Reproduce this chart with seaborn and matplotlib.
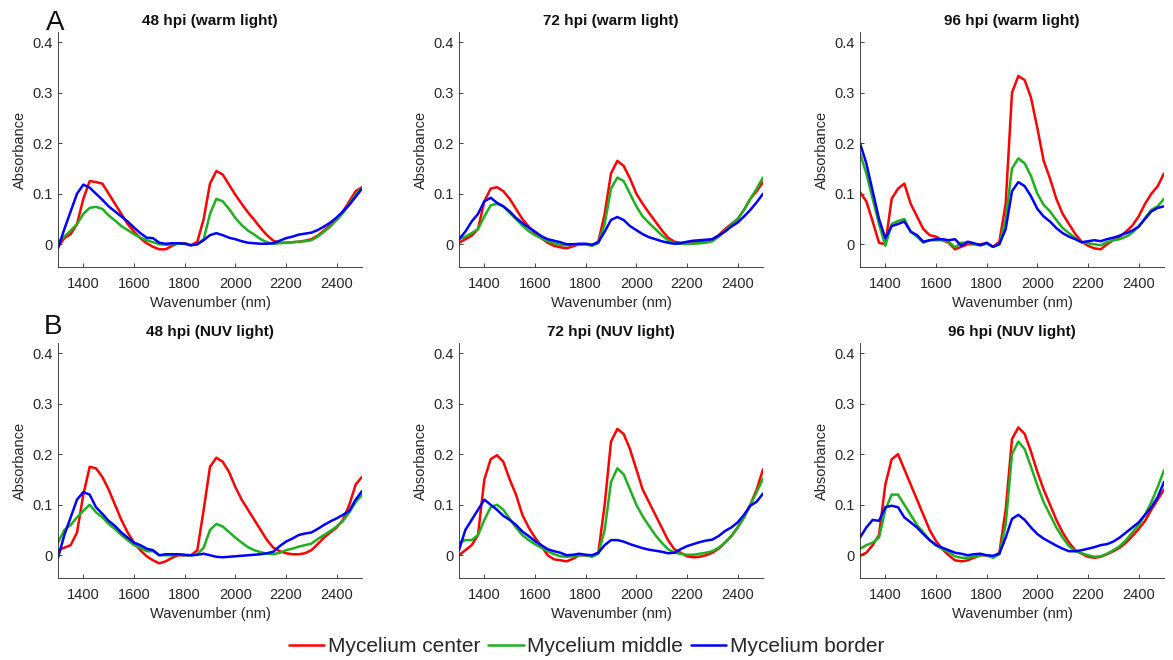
import numpy as np
import pandas as pd
import matplotlib
matplotlib.use("Agg")
import matplotlib.pyplot as plt
import seaborn as sns
from matplotlib.lines import Line2D

# Wavelength grid (nm)
wavelength = list(range(1300, 2501, 25))

# ---- 48 hpi, warm light ----
w48_center = [-0.005, 0.012, 0.02, 0.04, 0.09, 0.125, 0.123, 0.12, 0.1, 0.08,
              0.06, 0.04, 0.025, 0.012, 0.002, -0.005, -0.01, -0.01, -0.003, 0.002,
              0.002, -0.002, 0.005, 0.05, 0.12, 0.145, 0.138, 0.118, 0.098, 0.08,
              0.063, 0.048, 0.032, 0.018, 0.007, 0.003, 0.003, 0.004, 0.005, 0.007,
              0.01, 0.017, 0.027, 0.038, 0.05, 0.065, 0.085, 0.105, 0.113]
w48_middle = [0.005, 0.015, 0.027, 0.04, 0.06, 0.072, 0.074, 0.07, 0.057, 0.047,
              0.036, 0.028, 0.02, 0.013, 0.008, 0.004, 0.0, -0.001, 0.0, 0.001,
              0.001, -0.002, 0.0, 0.01, 0.06, 0.09, 0.085, 0.07, 0.052, 0.038,
              0.027, 0.019, 0.01, 0.004, 0.001, 0.002, 0.003, 0.004, 0.005, 0.006,
              0.008, 0.015, 0.025, 0.035, 0.048, 0.062, 0.08, 0.098, 0.112]
w48_border = [-0.008, 0.03, 0.065, 0.1, 0.118, 0.112, 0.1, 0.088, 0.075, 0.065,
              0.055, 0.045, 0.033, 0.022, 0.013, 0.012, 0.003, 0.001, 0.002, 0.002,
              0.001, -0.002, 0.0, 0.008, 0.018, 0.022, 0.018, 0.013, 0.01, 0.006,
              0.003, 0.002, 0.001, 0.001, 0.002, 0.007, 0.012, 0.015, 0.019, 0.021,
              0.023, 0.028, 0.035, 0.043, 0.053, 0.065, 0.078, 0.094, 0.11]

# ---- 72 hpi, warm light ----
w72_center = [0.003, 0.01, 0.017, 0.03, 0.085, 0.11, 0.113, 0.105, 0.09, 0.07,
              0.05, 0.035, 0.022, 0.012, 0.003, -0.003, -0.006, -0.008, -0.004, 0.0,
              0.0, -0.002, 0.005, 0.06, 0.14, 0.165, 0.155, 0.13, 0.1, 0.08,
              0.062, 0.045, 0.028, 0.013, 0.005, 0.003, 0.003, 0.004, 0.005, 0.007,
              0.01, 0.018, 0.03, 0.04, 0.05, 0.068, 0.09, 0.105, 0.123]
w72_middle = [0.01, 0.015, 0.022, 0.03, 0.055, 0.077, 0.08, 0.075, 0.062, 0.05,
              0.037, 0.026, 0.018, 0.012, 0.006, 0.002, -0.001, -0.002, -0.001, 0.0,
              0.0, -0.003, 0.002, 0.04, 0.11, 0.132, 0.125, 0.1, 0.075, 0.055,
              0.042, 0.03, 0.018, 0.008, 0.002, 0.001, 0.001, 0.001, 0.002, 0.003,
              0.006, 0.015, 0.027, 0.038, 0.05, 0.068, 0.09, 0.11, 0.132]
w72_border = [0.01, 0.025, 0.045, 0.06, 0.085, 0.092, 0.082, 0.075, 0.065, 0.052,
              0.042, 0.033, 0.025, 0.016, 0.01, 0.007, 0.004, 0.0, 0.0, 0.001,
              0.001, -0.001, 0.004, 0.025, 0.048, 0.054, 0.048, 0.036, 0.028, 0.02,
              0.014, 0.01, 0.006, 0.003, 0.001, 0.002, 0.005, 0.007, 0.008, 0.009,
              0.01, 0.017, 0.025, 0.035, 0.043, 0.055, 0.068, 0.083, 0.1]

# ---- 96 hpi, warm light ----
w96_center = [0.103, 0.085, 0.045, 0.003, 0.0, 0.09, 0.11, 0.12, 0.08, 0.055,
              0.03, 0.018, 0.015, 0.008, 0.003, -0.01, -0.005, 0.0, 0.0, 0.0,
              0.002, -0.005, 0.005, 0.08, 0.3, 0.333, 0.325, 0.29, 0.23, 0.165,
              0.13, 0.09, 0.06, 0.04, 0.02, 0.005, -0.003, -0.008, -0.01, 0.0,
              0.008, 0.015, 0.025, 0.037, 0.055, 0.08, 0.1, 0.115, 0.14]
w96_middle = [0.18, 0.14, 0.09, 0.04, -0.003, 0.04, 0.046, 0.05, 0.025, 0.015,
              0.003, 0.008, 0.008, 0.008, 0.005, -0.006, 0.003, 0.003, 0.001, -0.002,
              0.001, -0.005, 0.0, 0.05, 0.15, 0.17, 0.16, 0.135, 0.1, 0.078,
              0.065, 0.048, 0.032, 0.022, 0.012, 0.004, 0.002, 0.0, -0.002, 0.004,
              0.008, 0.01, 0.015, 0.023, 0.035, 0.052, 0.068, 0.075, 0.09]
w96_border = [0.2, 0.16, 0.105, 0.05, 0.012, 0.036, 0.04, 0.045, 0.025, 0.018,
              0.005, 0.008, 0.01, 0.01, 0.008, 0.01, -0.003, 0.005, 0.002, -0.002,
              0.003, -0.005, 0.0, 0.03, 0.105, 0.123, 0.115, 0.095, 0.07, 0.055,
              0.045, 0.032, 0.022, 0.015, 0.01, 0.004, 0.006, 0.008, 0.006, 0.01,
              0.013, 0.017, 0.022, 0.027, 0.035, 0.05, 0.065, 0.072, 0.075]

# ---- 48 hpi, NUV light ----
n48_center = [0.01, 0.015, 0.02, 0.045, 0.12, 0.175, 0.172, 0.155, 0.13, 0.1,
              0.07, 0.045, 0.025, 0.01, -0.002, -0.01, -0.016, -0.012, -0.005, 0.0,
              0.0, 0.0, 0.01, 0.09, 0.175, 0.193, 0.185, 0.165, 0.135, 0.11,
              0.09, 0.07, 0.05, 0.03, 0.015, 0.008, 0.004, 0.002, 0.002, 0.004,
              0.01, 0.022, 0.035, 0.045, 0.055, 0.07, 0.1, 0.14, 0.155]
n48_middle = [0.025, 0.05, 0.06, 0.075, 0.088, 0.1, 0.085, 0.075, 0.062, 0.052,
              0.04, 0.03, 0.02, 0.015, 0.008, 0.008, 0.0, 0.0, 0.0, 0.001,
              0.0, 0.0, 0.002, 0.015, 0.05, 0.062, 0.057, 0.046, 0.035, 0.025,
              0.016, 0.01, 0.006, 0.003, 0.002, 0.005, 0.01, 0.013, 0.017, 0.02,
              0.023, 0.032, 0.04, 0.048, 0.057, 0.068, 0.085, 0.105, 0.12]
n48_border = [-0.005, 0.04, 0.075, 0.11, 0.125, 0.12, 0.095, 0.082, 0.068, 0.058,
              0.045, 0.035, 0.025, 0.02, 0.013, 0.01, 0.0, 0.002, 0.002, 0.002,
              0.001, 0.0, 0.001, 0.003, 0.0, -0.003, -0.004, -0.003, -0.002, -0.001,
              0.0, 0.001, 0.002, 0.004, 0.007, 0.018, 0.027, 0.033, 0.04, 0.043,
              0.045, 0.052, 0.06, 0.067, 0.073, 0.08, 0.088, 0.11, 0.127]

# ---- 72 hpi, NUV light ----
n72_center = [0.0, 0.01, 0.02, 0.04, 0.15, 0.19, 0.198, 0.185, 0.15, 0.12,
              0.08, 0.055, 0.035, 0.018, 0.0, -0.008, -0.01, -0.012, -0.007, 0.0,
              0.0, -0.002, 0.005, 0.1, 0.225, 0.25, 0.24, 0.21, 0.17, 0.13,
              0.105, 0.08, 0.055, 0.03, 0.012, 0.005, -0.002, -0.004, -0.003, 0.0,
              0.005, 0.013, 0.025, 0.038, 0.055, 0.075, 0.1, 0.13, 0.17]
n72_middle = [0.025, 0.03, 0.03, 0.04, 0.07, 0.095, 0.1, 0.09, 0.072, 0.055,
              0.04, 0.03, 0.022, 0.015, 0.008, 0.002, -0.002, -0.003, -0.002, 0.0,
              0.0, -0.003, 0.003, 0.05, 0.145, 0.172, 0.16, 0.13, 0.1, 0.077,
              0.058, 0.04, 0.025, 0.012, 0.005, 0.003, 0.001, 0.001, 0.003, 0.005,
              0.008, 0.015, 0.025, 0.038, 0.055, 0.075, 0.1, 0.125, 0.152]
n72_border = [0.01, 0.05, 0.07, 0.09, 0.11, 0.1, 0.09, 0.078, 0.07, 0.06,
              0.047, 0.038, 0.028, 0.02, 0.012, 0.008, 0.005, 0.0, 0.001, 0.003,
              0.001, 0.0, 0.005, 0.02, 0.03, 0.03, 0.027, 0.022, 0.018, 0.014,
              0.011, 0.009, 0.007, 0.004, 0.005, 0.012, 0.018, 0.022, 0.026, 0.029,
              0.031, 0.038, 0.048, 0.055, 0.065, 0.08, 0.098, 0.106, 0.122]

# ---- 96 hpi, NUV light ----
n96_center = [-0.001, 0.005, 0.02, 0.04, 0.14, 0.19, 0.2, 0.17, 0.14, 0.11,
              0.08, 0.05, 0.028, 0.012, 0.0, -0.01, -0.012, -0.01, -0.005, 0.0,
              0.0, -0.003, 0.005, 0.09, 0.23, 0.253, 0.24, 0.205, 0.165, 0.13,
              0.1, 0.07, 0.045, 0.025, 0.01, 0.003, -0.003, -0.005, -0.003, 0.002,
              0.008, 0.015, 0.025, 0.038, 0.052, 0.068, 0.09, 0.11, 0.13]
n96_middle = [0.013, 0.02, 0.025, 0.035, 0.09, 0.12, 0.12, 0.1, 0.08, 0.06,
              0.045, 0.03, 0.02, 0.012, 0.006, -0.002, -0.005, -0.005, -0.003, 0.0,
              0.0, -0.005, 0.002, 0.06, 0.2, 0.225, 0.21, 0.175, 0.138, 0.105,
              0.08, 0.055, 0.035, 0.018, 0.008, 0.004, 0.0, -0.003, -0.002, 0.003,
              0.01, 0.018, 0.03, 0.045, 0.06, 0.08, 0.105, 0.135, 0.168]
n96_border = [0.035, 0.055, 0.07, 0.068, 0.095, 0.098, 0.095, 0.075, 0.065, 0.055,
              0.042, 0.03, 0.02, 0.015, 0.01, 0.005, 0.003, 0.0, 0.002, 0.003,
              0.0, -0.001, 0.003, 0.035, 0.072, 0.08, 0.07, 0.055, 0.042, 0.033,
              0.026, 0.019, 0.013, 0.008, 0.008, 0.01, 0.013, 0.016, 0.02, 0.022,
              0.027, 0.035, 0.045, 0.055, 0.065, 0.08, 0.095, 0.115, 0.145]

series_names = ["Mycelium center", "Mycelium middle", "Mycelium border"]
panel_titles = ["48 hpi (warm light)", "72 hpi (warm light)", "96 hpi (warm light)",
                "48 hpi (NUV light)", "72 hpi (NUV light)", "96 hpi (NUV light)"]
panels = [
    (w48_center, w48_middle, w48_border),
    (w72_center, w72_middle, w72_border),
    (w96_center, w96_middle, w96_border),
    (n48_center, n48_middle, n48_border),
    (n72_center, n72_middle, n72_border),
    (n96_center, n96_middle, n96_border),
]
row_letters = ["A", "B"]
x_ticks = [1400, 1600, 1800, 2000, 2200, 2400]
y_ticks = [0, 0.1, 0.2, 0.3, 0.4]
y_ticklabels = ["0", "0.1", "0.2", "0.3", "0.4"]

colors = {"Mycelium center": "#ff0000",
          "Mycelium middle": "#1eb01e",
          "Mycelium border": "#0000ff"}

sns.set_style("ticks")
plt.rcParams["font.family"] = ["Liberation Sans", "DejaVu Sans"]
axis_color = "#262626"

W, H = 1173, 660
fig = plt.figure(figsize=(W / 100, H / 100), dpi=100)

lefts = [58 / W, 459 / W, 860 / W]
width = 304 / W
bottoms = [1 - 267 / H, 1 - 578 / H]
height = 235 / H
letter_pos = [(55 / W, 1 - 30 / H), (53 / W, 1 - 334 / H)]

for idx, (title, curves) in enumerate(zip(panel_titles, panels)):
    r, c = divmod(idx, 3)
    ax = fig.add_axes([lefts[c], bottoms[r], width, height])
    frames = []
    for name, vals in zip(series_names, curves):
        assert len(vals) == len(wavelength)
        frames.append(pd.DataFrame({"Wavelength": wavelength,
                                    "Absorbance": vals,
                                    "Sample": name}))
    df = pd.concat(frames, ignore_index=True)
    sns.lineplot(data=df, x="Wavelength", y="Absorbance", hue="Sample",
                 hue_order=series_names, palette=colors, linewidth=1.8,
                 legend=False, ax=ax, sort=True)
    ax.set_xlim(1300, 2500)
    ax.set_ylim(-0.045, 0.42)
    ax.set_xticks(x_ticks)
    ax.set_yticks(y_ticks)
    ax.set_yticklabels(y_ticklabels)
    ax.tick_params(direction="in", length=3, width=0.6, colors=axis_color,
                   labelsize=10.5)
    ax.tick_params(axis="x", pad=7.5)
    ax.tick_params(axis="y", pad=4)
    for side in ("top", "right"):
        ax.spines[side].set_visible(False)
    for side in ("left", "bottom"):
        ax.spines[side].set_color(axis_color)
        ax.spines[side].set_linewidth(0.6)
    ax.set_xlabel("Wavenumber (nm)", fontsize=10.5, color=axis_color, labelpad=3.5)
    ax.set_ylabel("Absorbance", fontsize=10.5, color=axis_color, labelpad=4)
    ax.set_title(title, fontsize=11, fontweight="bold", color="#111111", pad=5)

for letter, (lx, ly) in zip(row_letters, letter_pos):
    fig.text(lx, ly, letter, fontsize=20, color="#111111",
             ha="center", va="baseline")

handles = [Line2D([0], [0], color=colors[n], lw=1.8) for n in series_names]
fig.legend(handles, series_names, loc="center", ncol=3, frameon=False,
           bbox_to_anchor=(0.5, 1 - 647 / H), fontsize=15, handlelength=1.7,
           handletextpad=0.15, columnspacing=0.4, borderpad=0, borderaxespad=0)

fig.savefig("out.png", dpi=100)
